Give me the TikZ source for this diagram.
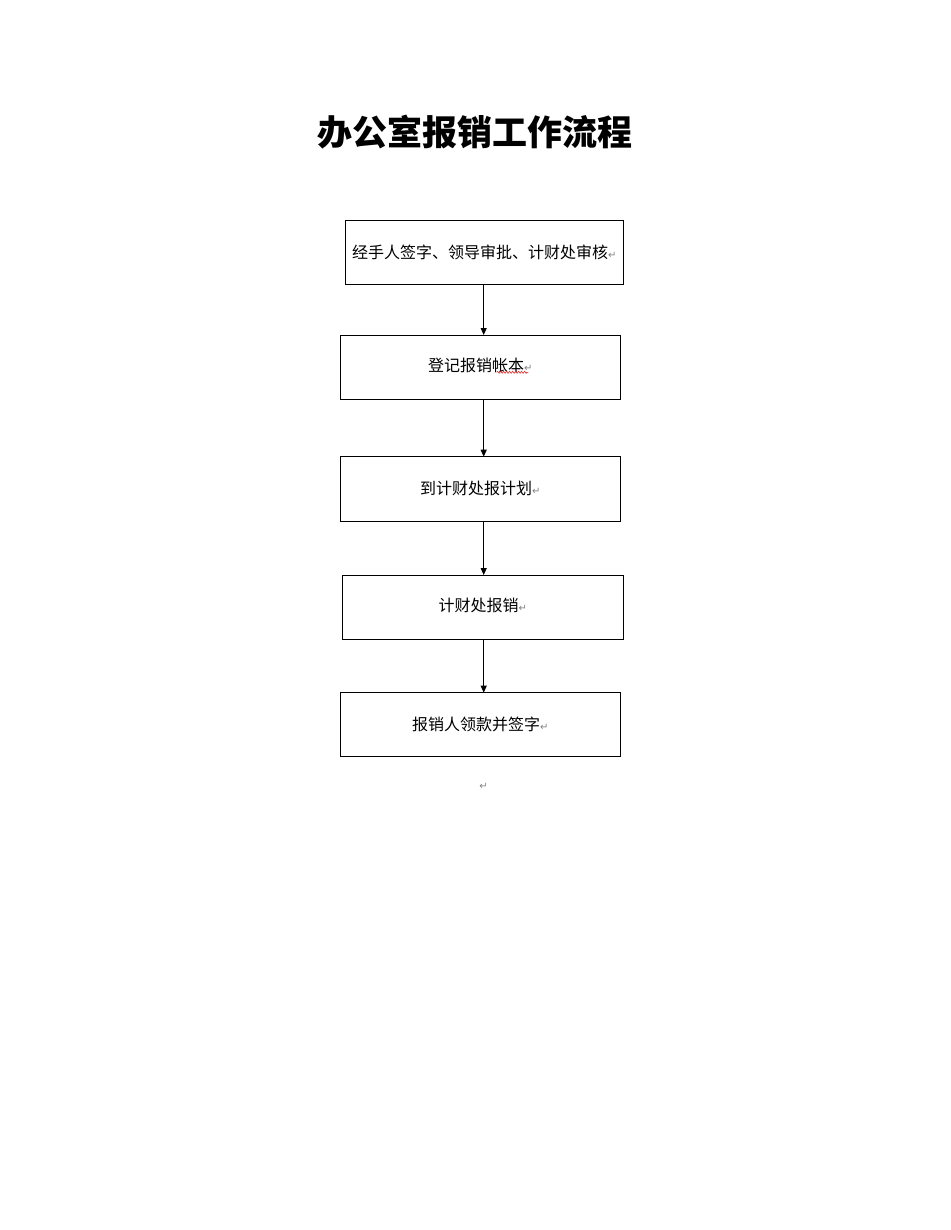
\documentclass[tikz,border=0pt]{standalone}
\usepackage{fontspec}
\newfontfamily\cjk{Noto Sans CJK SC}
\newfontfamily\symf{DejaVu Sans}
\usetikzlibrary{arrows.meta,decorations.pathmorphing}
\definecolor{markgrey}{RGB}{130,130,130}
\definecolor{wavyred}{RGB}{220,40,40}
\newcommand{\pmark}{{\symf\fontsize{10}{11}\selectfont\textcolor{markgrey}{↵}}}
\tikzset{
  box/.style={draw=black, line width=1pt, rectangle, inner sep=0pt, outer sep=0pt,
    minimum height=63.6pt, font=\cjk\fontsize{16}{18}\selectfont, align=center},
  flow/.style={line width=1pt, -{Triangle[length=7pt,width=6pt]}},
}
\begin{document}
\begin{tikzpicture}[x=1pt,y=-1pt]
\useasboundingbox[fill=white] (0,0) rectangle (950,1230);
\node[font=\cjk\bfseries\fontsize{35}{40}\selectfont] (title) at (475,132) {办公室报销工作流程};
\node[box, minimum width=278.3pt] (b1) at (484.2,252.5) {\raisebox{1pt}{经手人签字、领导审批、计财处审核\pmark}};
\node[box, minimum width=280pt, minimum height=64pt] (b2) at (480.2,367) {\raisebox{4pt}{登记报销帐本\pmark}};
\node[box, minimum width=280pt, minimum height=64.6pt] (b3) at (480.2,489) {\raisebox{3pt}{到计财处报计划\pmark}};
\node[box, minimum width=281pt, minimum height=64.3pt] (b4) at (482.8,607.2) {\raisebox{4pt}{计财处报销\pmark}};
\node[box, minimum width=280pt, minimum height=64pt] (b5) at (480.2,724.7) {\raisebox{2pt}{报销人领款并签字\pmark}};
\coordinate (w1) at (496.7,372.3);
\coordinate (w2) at (528.3,372.3);
\draw[wavyred, line width=0.6pt, decorate, decoration={snake, amplitude=1pt, segment length=3pt}] (w1) -- (w2);
\node (endmark) at (483.5,786) {\pmark};
\draw[flow] (b1.south -| 483.7,0) -- (b2.north -| 483.7,0);
\draw[flow] (b2.south -| 483.7,0) -- (b3.north -| 483.7,0);
\draw[flow] (b3.south -| 483.7,0) -- (b4.north -| 483.7,0);
\draw[flow] (b4.south -| 483.7,0) -- (b5.north -| 483.7,0);
\end{tikzpicture}
\end{document}
